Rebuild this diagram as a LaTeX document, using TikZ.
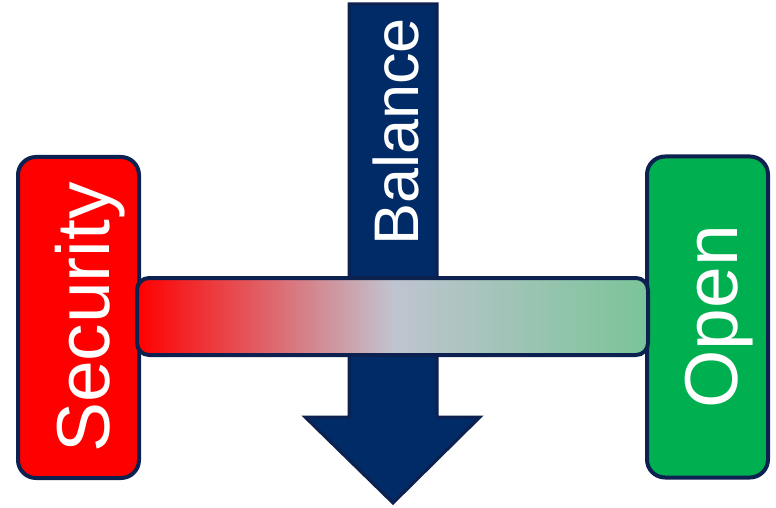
\documentclass[tikz,border=0pt]{standalone}
\usepackage{fontspec}
\setmainfont{Liberation Sans}
\usepackage{tikz}
\definecolor{navy}{HTML}{002B66}
\definecolor{edge}{HTML}{0C2150}
\definecolor{secred}{HTML}{FF0000}
\definecolor{opengreen}{HTML}{00AF50}
\definecolor{midgray}{HTML}{C0C4D0}
\definecolor{lightgreen}{HTML}{7AC498}

\tikzset{
  sidebox/.style={draw=edge, line width=4pt, rounded corners=18pt,
    minimum width=121pt, minimum height=321pt, inner sep=0pt},
  sidelabel/.style={rotate=90, anchor=base, text=white,
    font=\fontsize{75}{75}\selectfont},
}

\begin{document}
\begin{tikzpicture}[x=1pt,y=1pt]
\useasboundingbox (0,0) rectangle (776,507);
%\draw[step=50,lightgray,very thin] (0,0) grid (776,507);
% balance arrow
\draw[fill=navy, draw=edge, line width=3pt, line join=miter]
  (349,503) -- (437,503) -- (437,90) -- (480,90) -- (393,4)
  -- (305,90) -- (349,90) -- cycle;
\node[rotate=90, anchor=base, text=white, font=\fontsize{63}{63}\selectfont] (balance) at (418,375) {Balance};
% the two sides
\node[sidebox, fill=secred] (security) at (78.5,189.5) {};
\node[sidelabel] (securitytext) at ([xshift=31pt]security.center) {Security};
\node[sidebox, fill=opengreen] (open) at (707.5,190) {};
\node[sidelabel] (opentext) at ([xshift=30pt]open.center) {Open};
% bar between them
\shade[left color=secred, right color=lightgreen, middle color=midgray, rounded corners=12pt]
  (137,152) rectangle (648,229);
\draw[edge, line width=4pt, rounded corners=12pt] (137,152) rectangle (648,229);
\end{tikzpicture}
\end{document}
